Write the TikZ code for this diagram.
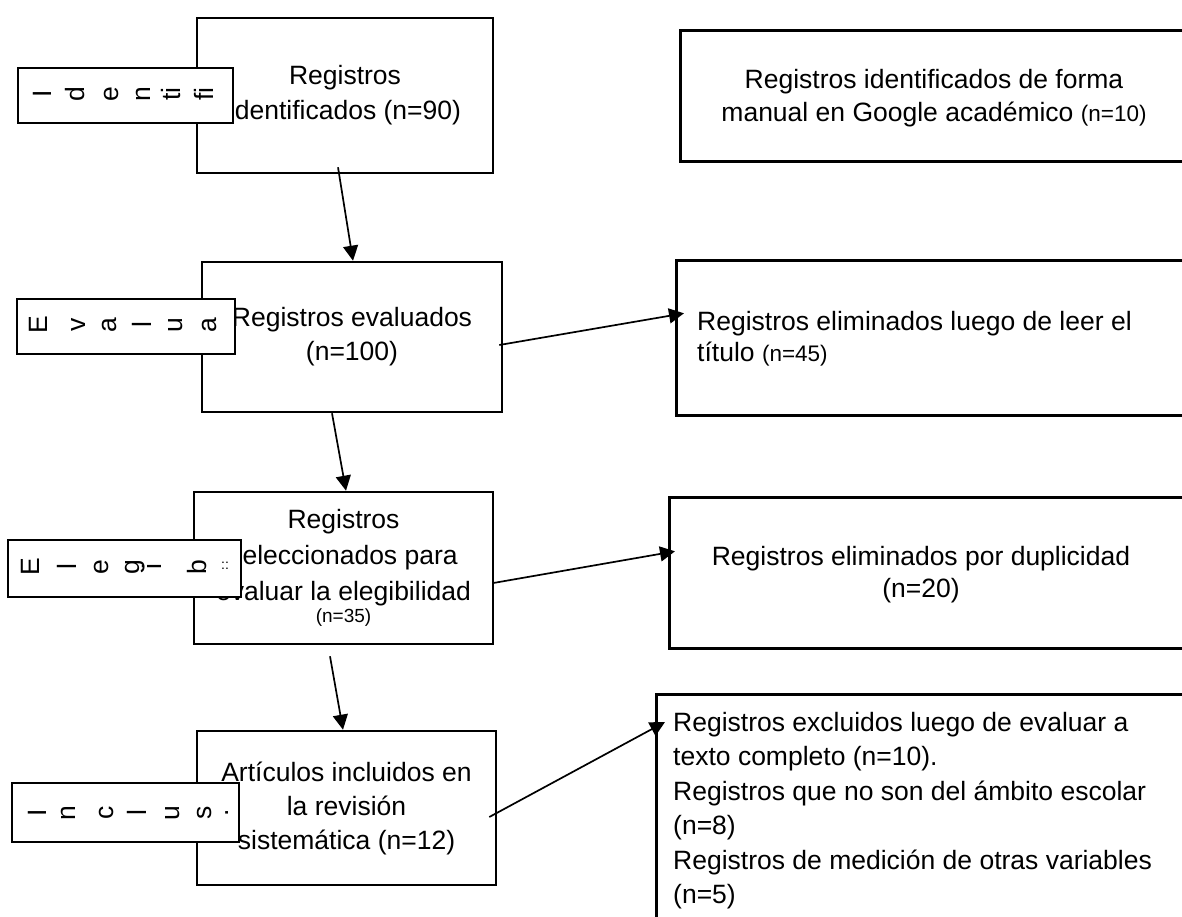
\documentclass[tikz,border=0pt]{standalone}
\usepackage{fontspec}
\setmainfont{Liberation Sans}
\usetikzlibrary{arrows.meta}
\newcommand{\smallfs}{\fontsize{22.5}{26}\selectfont}
\newcommand{\tinyfs}{\fontsize{19}{22}\selectfont}
\begin{document}
\begin{tikzpicture}[x=1pt,y=-1pt,
  box/.style={draw, line width=2.6pt, inner sep=0pt, align=center},
  rbox/.style={draw, line width=2.6pt, inner sep=0pt, anchor=north west},
  lbl/.style={draw, line width=2.6pt, fill=white, inner sep=0pt},
  lt/.style={rotate=90, inner sep=0pt, font=\fontsize{26.5}{30}\selectfont},
  txt/.style={inner sep=0pt},
  arr/.style={line width=1.7pt, -{Triangle[length=15pt,width=15pt]}}]
\useasboundingbox (0,0) rectangle (1182,916);
\clip (0,0) rectangle (1182,916);

% main column
\node[box, minimum width=296pt, minimum height=155pt, font=\fontsize{26.5}{35}\selectfont] (b1) at (345,95.5) {Registros\\identificados (n=90)};
\node[box, minimum width=300pt, minimum height=150pt, font=\fontsize{26.5}{34}\selectfont] (b2) at (352,337) {Registros evaluados\\(n=100)};
\node[box, minimum width=299pt, minimum height=152pt, font=\fontsize{26.5}{36}\selectfont] (b3) at (343.5,568) {Registros\\seleccionados para\\evaluar la elegibilidad\\[-14pt]{\tinyfs (n=35)}};
\node[box, minimum width=299pt, minimum height=154pt, font=\fontsize{26.5}{34}\selectfont] (b4) at (346.5,808) {Artículos incluidos en\\la revisión\\sistemática (n=12)};

% right column
\node[rbox, minimum width=520pt, minimum height=131pt] (r1) at (679,29) {};
\node[rbox, minimum width=530pt, minimum height=155pt] (r2) at (675,259) {};
\node[rbox, minimum width=540pt, minimum height=151pt] (r3) at (668,496) {};
\node[rbox, minimum width=560pt, minimum height=260pt] (r4) at (655,693) {};

\node[txt, align=center, font=\fontsize{26.5}{33}\selectfont] (t1) at (934,98) {Registros identificados de forma\\manual en Google académico {\smallfs (n=10)}};
\node[txt, align=left, anchor=west, font=\fontsize{26.5}{31}\selectfont] (t2) at (697,339) {Registros eliminados luego de leer el\\título {\smallfs (n=45)}};
\node[txt, align=center, font=\fontsize{26.5}{32}\selectfont] (t3) at (921,575) {Registros eliminados por duplicidad\\(n=20)};
\node[txt, align=left, anchor=north west, font=\fontsize{26.5}{34.4}\selectfont] (t4) at (673,712) {Registros excluidos luego de evaluar a\\texto completo (n=10).\\Registros que no son del ámbito escolar\\(n=8)\\Registros de medición de otras variables\\(n=5)};

% side labels
\node[lbl, minimum width=215pt, minimum height=55pt] (l1) at (125.5,95.5) {};
\node[lt] (l1a) at (42,94) {I};
\node[lt] (l1b) at (75,94) {d};
\node[lt] (l1c) at (111,94) {e};
\node[lt] (l1d) at (143,94) {n};
\node[lt] (l1e) at (171,94) {ti};
\node[lt] (l1f) at (204,94) {f\kern0pt i};

\node[lbl, minimum width=218pt, minimum height=55pt] (l2) at (126,326.5) {};
\node[lt] (l2a) at (38,325) {E};
\node[lt] (l2b) at (78,325) {v};
\node[lt] (l2c) at (109,325) {a};
\node[lt] (l2d) at (142,325) {l};
\node[lt] (l2e) at (176,325) {u};
\node[lt] (l2f) at (209,325) {a};

\node[lbl, minimum width=233pt, minimum height=57pt] (l3) at (124.5,568.5) {};
\node[lt] (l3a) at (30,567) {E};
\node[lt] (l3b) at (67,567) {l};
\node[lt] (l3c) at (101,567) {e};
\node[lt] (l3d) at (135,567) {g};
\node[lt] (l3e) at (152,567) {i};
\node[lt] (l3f) at (197,567) {b};
\node[inner sep=0pt, font=\fontsize{14}{14}\selectfont] (l3g) at (225,566) {::};

\node[lbl, minimum width=227pt, minimum height=59pt] (l4) at (125.5,812.5) {};
\node[lt] (l4a) at (37,813) {I};
\node[lt] (l4b) at (68,813) {n};
\node[lt] (l4c) at (106,813) {c};
\node[lt] (l4d) at (137,813) {l};
\node[lt] (l4e) at (173,813) {u};
\node[lt] (l4f) at (205,813) {s};
\node[lt] (l4g) at (227,813) {.};

% connectors
\draw[arr] ([xshift=-7pt,yshift=7pt]b1.south) -- ([xshift=1pt]b2.north);
\draw[arr] ([xshift=-20pt]b2.south) -- ([xshift=2.5pt]b3.north);
\draw[arr] ([xshift=-13.5pt,yshift=-11pt]b3.south) -- ([xshift=-3.5pt]b4.north);
\draw[arr] ([xshift=-4pt,yshift=-8pt]b2.east) -- ([xshift=9pt,yshift=24.5pt]r2.west);
\draw[arr] ([xshift=-1pt,yshift=-15pt]b3.east) -- ([xshift=7pt,yshift=21.5pt]r3.west);
\draw[arr] ([xshift=-8pt,yshift=-9pt]b4.east) -- ([xshift=10pt,yshift=-29pt]r4.north west);
\end{tikzpicture}
\end{document}
